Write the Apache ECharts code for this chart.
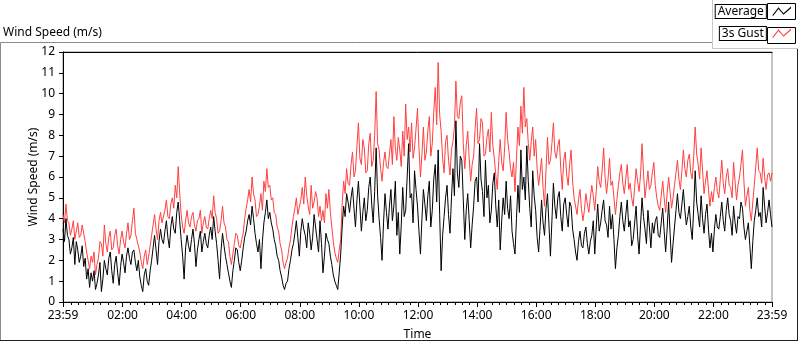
<!DOCTYPE html>
<html>
<head>
<meta charset="utf-8">
<script src="https://cdn.jsdelivr.net/npm/echarts@6/dist/echarts.min.js"></script>
<style>
  html, body { margin: 0; padding: 0; background: #fff; }
  #chart { width: 800px; height: 342px; }
</style>
</head>
<body>
<div id="chart"></div>
<script>
// samples every 3 minutes, first one at 23:59 of the previous day (minute -1)
const startMinute = -1
const stepMinutes = 3

// one row = one hour
const average = [
  3.5, 2.9, 4.0, 3.2, 3.0, 2.3, 2.6, 3.1, 1.8, 2.9, 2.5, 1.9, 2.2, 2.7, 1.7, 2.1, 1.1, 1.6, 0.7, 1.4,
  1.0, 1.5, 0.6, 0.9, 1.3, 1.9, 0.5, 1.1, 2.0, 1.6, 1.3, 2.1, 2.4, 1.5, 0.9, 1.8, 2.2, 1.4, 0.8, 1.7,
  2.3, 1.9, 1.4, 2.2, 2.6, 2.1, 1.8, 2.4, 2.5, 1.9, 1.5, 2.0, 1.2, 0.8, 0.5, 1.3, 1.6, 1.0, 0.8, 1.5,
  2.0, 2.6, 3.2, 2.5, 1.8, 2.9, 3.5, 3.0, 2.8, 3.4, 3.9, 3.1, 2.6, 3.6, 4.1, 3.5, 3.3, 4.3, 4.8, 3.9,
  3.0, 2.2, 1.1, 2.6, 3.2, 2.7, 2.4, 3.0, 3.5, 2.8, 1.7, 2.5, 3.0, 3.4, 2.4, 2.9, 3.3, 2.8, 2.6, 3.2,
  3.6, 3.0, 4.1, 3.4, 2.8, 2.0, 1.1, 2.5, 3.3, 2.7, 2.2, 1.8, 1.4, 1.0, 0.7, 1.5, 2.0, 2.6, 2.5, 1.9,
  1.5, 2.0, 2.6, 3.1, 3.4, 3.9, 4.2, 3.7, 4.6, 4.0, 3.3, 2.8, 2.4, 3.0, 1.6, 2.9, 3.8, 4.3, 4.9, 4.0,
  4.3, 3.8, 3.5, 3.0, 2.7, 2.2, 2.0, 1.5, 1.2, 0.8, 0.6, 0.9, 1.0, 1.6, 2.0, 2.5, 2.8, 3.3, 3.9, 3.1,
  2.2, 3.4, 4.0, 3.5, 3.2, 2.6, 3.8, 3.3, 2.5, 3.1, 4.2, 3.6, 3.0, 2.4, 3.9, 2.8, 1.4, 2.2, 3.3, 3.0,
  2.8, 2.2, 1.8, 1.3, 1.0, 0.8, 0.6, 1.4, 2.3, 3.6, 4.6, 4.1, 5.2, 4.8, 4.3, 5.0, 5.5, 4.5, 3.6, 4.9,
  5.8, 4.6, 3.4, 4.3, 5.0, 3.9, 4.4, 5.5, 6.0, 4.7, 3.8, 5.3, 7.4, 5.1, 4.0, 3.1, 2.0, 3.8, 5.2, 4.3,
  3.5, 4.6, 5.4, 3.9, 4.6, 5.8, 3.2, 4.3, 2.3, 3.7, 5.5, 4.1, 4.4, 6.0, 7.6, 5.0, 5.2, 3.8, 6.3, 5.4,
  4.6, 3.4, 2.3, 4.0, 5.4, 4.7, 3.9, 5.1, 5.8, 3.6, 4.4, 5.9, 6.6, 4.8, 7.3, 4.2, 1.5, 3.2, 4.1, 5.0,
  5.6, 4.2, 3.3, 5.0, 6.4, 5.1, 8.7, 6.2, 5.5, 7.0, 6.8, 4.9, 3.0, 4.4, 5.2, 3.9, 2.6, 3.7, 4.6, 5.8,
  6.0, 4.8, 7.6, 5.9, 5.3, 4.1, 6.8, 5.0, 5.6, 3.8, 4.4, 5.7, 6.2, 4.6, 3.6, 4.9, 2.5, 3.9, 5.0, 4.2,
  5.8, 4.5, 4.0, 5.1, 3.4, 2.8, 2.3, 4.0, 5.6, 4.3, 7.3, 5.4, 6.0, 4.9, 7.5, 5.8, 4.5, 3.6, 6.3, 5.1,
  4.4, 3.1, 2.4, 3.6, 4.9, 3.8, 3.2, 4.5, 5.2, 3.7, 2.2, 3.9, 5.7, 4.6, 4.0, 5.0, 5.3, 4.1, 3.4, 4.7,
  5.0, 4.2, 3.6, 4.8, 4.6, 3.5, 3.0, 2.4, 2.0, 2.9, 3.4, 2.7, 2.6, 3.3, 3.6, 2.8, 2.3, 2.9, 3.2, 3.9,
  2.3, 3.6, 4.7, 3.4, 3.8, 4.4, 4.9, 3.9, 3.7, 3.1, 4.6, 3.5, 4.2, 3.0, 1.6, 2.6, 3.2, 4.1, 4.8, 3.9,
  3.4, 4.2, 4.9, 3.6, 3.9, 2.7, 3.0, 3.8, 4.6, 3.2, 2.3, 3.7, 5.0, 4.1, 3.5, 2.8, 4.4, 3.6, 2.6, 3.8,
  3.3, 3.9, 4.1, 3.2, 3.1, 3.8, 4.5, 3.4, 2.4, 3.5, 4.8, 3.3, 1.9, 2.8, 3.6, 4.4, 5.2, 4.3, 4.0, 4.7,
  5.4, 4.4, 3.7, 4.1, 4.6, 3.6, 3.0, 4.5, 6.3, 4.8, 4.2, 3.6, 5.1, 4.0, 3.3, 4.2, 4.7, 3.5, 2.6, 3.3,
  2.4, 3.5, 4.2, 3.6, 3.5, 4.1, 4.8, 3.9, 3.4, 4.4, 5.0, 4.2, 3.9, 3.2, 4.6, 3.8, 3.3, 4.1, 4.0, 4.8,
  4.5, 3.6, 3.0, 3.4, 3.8, 2.7, 1.6, 2.9, 3.9, 4.4, 5.0, 4.1, 4.3, 3.6, 5.5, 4.6, 3.8, 4.3, 4.9, 4.2,
  3.6
]

const gust = [
  4.2, 3.8, 4.7, 3.9, 3.8, 3.2, 3.5, 3.9, 3.0, 3.4, 3.8, 3.1, 3.2, 3.7, 3.7, 2.9, 2.4, 2.0, 1.6, 2.2,
  1.9, 2.4, 1.3, 1.8, 2.1, 2.9, 2.8, 2.2, 3.7, 2.8, 2.4, 3.1, 3.4, 2.5, 2.6, 3.2, 3.5, 2.7, 2.3, 3.0,
  3.4, 2.9, 2.6, 3.3, 3.8, 3.0, 3.2, 3.9, 4.5, 3.3, 3.0, 2.7, 2.4, 1.9, 1.6, 2.2, 2.5, 1.8, 2.2, 2.7,
  3.2, 3.7, 4.2, 3.5, 3.0, 3.9, 4.3, 3.8, 3.8, 4.4, 4.9, 4.1, 4.0, 4.7, 5.0, 4.5, 5.6, 5.0, 6.5, 5.2,
  4.2, 3.6, 3.3, 3.9, 4.4, 3.8, 3.6, 4.1, 4.3, 3.7, 3.4, 3.9, 4.0, 4.4, 3.3, 3.8, 4.1, 3.6, 3.5, 4.0,
  4.4, 4.0, 5.1, 4.3, 4.0, 3.3, 3.4, 3.9, 4.6, 3.8, 3.6, 3.0, 2.9, 2.2, 1.8, 2.3, 2.8, 3.3, 3.2, 2.7,
  2.6, 3.0, 3.3, 4.0, 4.5, 4.9, 5.4, 4.8, 6.0, 5.2, 4.9, 4.1, 4.2, 4.6, 5.2, 4.4, 5.8, 5.3, 6.4, 5.5,
  5.6, 4.9, 5.0, 4.3, 4.2, 3.6, 3.4, 2.8, 2.5, 1.9, 1.6, 1.9, 2.1, 2.6, 3.0, 3.6, 4.1, 4.5, 5.0, 4.2,
  4.2, 4.9, 5.5, 4.7, 6.0, 5.1, 4.6, 4.2, 5.6, 4.5, 4.8, 5.3, 5.0, 4.1, 4.6, 3.9, 4.4, 3.8, 5.2, 4.5,
  5.4, 4.3, 3.6, 2.9, 2.4, 2.1, 1.9, 2.5, 3.0, 4.7, 5.8, 5.2, 6.4, 5.7, 5.6, 6.6, 7.2, 6.0, 6.3, 7.5,
  8.6, 6.9, 6.6, 7.8, 7.4, 6.2, 6.3, 7.6, 8.1, 6.5, 6.8, 8.0, 10.1, 7.6, 7.3, 6.4, 5.8, 6.7, 7.2, 6.5,
  6.4, 7.1, 7.8, 6.6, 8.9, 7.4, 6.8, 7.9, 7.3, 6.5, 8.2, 7.0, 9.5, 7.8, 8.4, 7.2, 8.6, 6.9, 7.4, 8.3,
  9.3, 7.4, 6.0, 7.1, 8.4, 6.8, 7.2, 8.2, 8.9, 7.0, 7.6, 9.1, 10.3, 8.5, 11.5, 9.0, 8.2, 6.9, 6.2, 7.7,
  8.0, 6.8, 6.1, 7.3, 7.7, 8.4, 10.6, 8.9, 8.8, 9.6, 9.9, 7.6, 6.4, 7.5, 8.2, 6.9, 5.8, 6.6, 7.0, 8.3,
  9.3, 7.6, 7.8, 8.8, 8.6, 7.0, 7.1, 7.9, 8.3, 7.2, 9.1, 7.5, 6.9, 6.1, 5.4, 6.8, 7.8, 6.7, 6.3, 7.4,
  9.1, 7.8, 7.2, 6.4, 6.0, 6.7, 5.3, 6.9, 8.4, 7.5, 9.4, 8.1, 10.3, 8.4, 8.8, 7.6, 6.8, 7.7, 8.4, 7.0,
  7.8, 6.4, 5.6, 6.2, 6.9, 5.5, 4.6, 6.3, 7.9, 6.6, 6.8, 7.6, 8.6, 7.2, 6.9, 7.5, 7.8, 6.4, 5.4, 6.8,
  7.2, 6.1, 5.6, 6.6, 7.3, 5.8, 5.0, 4.6, 4.2, 4.9, 5.4, 4.5, 3.9, 4.4, 5.2, 4.7, 4.3, 5.0, 5.6, 5.1,
  4.4, 5.3, 6.5, 5.8, 5.5, 6.3, 7.4, 6.0, 5.2, 5.9, 6.9, 5.6, 5.8, 5.0, 4.2, 4.9, 5.6, 6.2, 6.6, 5.7,
  5.2, 5.9, 6.6, 5.4, 5.7, 5.0, 4.6, 5.5, 6.4, 5.8, 5.3, 6.1, 7.6, 6.2, 5.0, 5.6, 6.3, 5.4, 5.6, 6.2,
  6.7, 5.6, 5.0, 4.6, 4.4, 5.1, 5.8, 5.0, 4.3, 5.2, 6.0, 5.3, 4.5, 5.0, 5.6, 6.2, 6.8, 5.9, 5.4, 6.3,
  7.3, 6.4, 6.0, 6.8, 7.1, 6.2, 5.9, 7.0, 8.4, 7.1, 6.6, 5.9, 7.4, 6.3, 5.2, 5.8, 6.3, 5.4, 4.6, 5.3,
  4.8, 5.5, 6.0, 5.3, 5.0, 5.9, 6.8, 5.7, 5.2, 6.0, 6.4, 5.6, 5.5, 5.0, 6.7, 5.8, 4.9, 5.6, 6.0, 6.6,
  7.3, 5.8, 4.6, 5.1, 5.5, 4.4, 3.9, 4.8, 5.6, 6.5, 7.4, 6.3, 6.2, 5.7, 6.9, 6.0, 5.4, 6.1, 6.2, 5.8,
  6.2
]

// x axis in minutes since midnight
const timeTicks = [-1, 120, 240, 360, 480, 600, 720, 840, 960, 1080, 1200, 1320, 1439]
const timeLabels = ['23:59', '02:00', '04:00', '06:00', '08:00', '10:00', '12:00',
  '14:00', '16:00', '18:00', '20:00', '22:00', '23:59']

let minorTicks = []
for (let m = 15; m < 1439; m += 15) {
  if (m % 120 != 0) minorTicks.push(m)
}

const toPoints = (arr) => arr.map((v, i) => [startMinute + i * stepMinutes, v])

const font = 'Noto Sans'
const zigzag = 'path://M0 10 L7 1 L13 8 L22 0 L22 2 L13 10 L7 3 L0 12 Z'

// both grids sit on the same rectangle, the second one only carries the minor ticks
const plotBox = { left: 63, right: 28, top: 52, bottom: 40 }

const chart = echarts.init(document.getElementById('chart'), null, { renderer: 'canvas' })

let option = {
  animation: false,
  backgroundColor: '#fff',
  textStyle: { fontFamily: font },
  title: {
    text: 'Wind Speed (m/s)',
    left: 3,
    top: 27,
    padding: 0,
    textStyle: { fontSize: 12, fontWeight: 'normal', color: '#000', fontFamily: font }
  },
  legend: {
    orient: 'vertical',
    right: 9,
    top: 4,
    padding: 0,
    align: 'right',
    itemWidth: 22,
    itemHeight: 10,
    itemGap: 7,
    selectedMode: false,
    data: [
      { name: 'Average', icon: zigzag },
      { name: '3s Gust', icon: zigzag }
    ],
    textStyle: {
      fontSize: 12, color: '#000', fontFamily: font,
      borderColor: '#000', borderWidth: 1, padding: [1, 2, 0, 2], backgroundColor: '#fff'
    }
  },
  grid: [
    Object.assign({ show: true, borderColor: '#8a8a8a', borderWidth: 1, outerBoundsMode: 'none' }, plotBox),
    Object.assign({ show: false, outerBoundsMode: 'none' }, plotBox)
  ],
  xAxis: [
    {
      type: 'value', min: -1, max: 1439, gridIndex: 0, position: 'bottom',
      name: 'Time', nameLocation: 'middle', nameGap: 27, nameMoveOverlap: false,
      nameTextStyle: { fontSize: 12, color: '#000', fontFamily: font },
      axisLine: { show: true, onZero: false, lineStyle: { color: '#000' } },
      axisTick: { show: true, length: 5, customValues: timeTicks, lineStyle: { color: '#000' } },
      axisLabel: {
        customValues: timeTicks, margin: 8, fontSize: 12, color: '#000', fontFamily: font,
        formatter: (v) => timeLabels[timeTicks.indexOf(v)]
      },
      splitLine: { show: false }
    },
    {
      // top border of the plot
      type: 'value', min: -1, max: 1439, gridIndex: 0, position: 'top',
      axisLine: { show: true, onZero: false, lineStyle: { color: '#000' } },
      axisTick: { show: false },
      axisLabel: { show: false },
      splitLine: { show: false }
    },
    {
      // minor ticks every 15 minutes
      type: 'value', min: -1, max: 1439, gridIndex: 1, position: 'bottom',
      axisLine: { show: false, onZero: false },
      axisTick: { show: true, length: 3, customValues: minorTicks, lineStyle: { color: '#000' } },
      axisLabel: { show: false },
      splitLine: { show: false }
    }
  ],
  yAxis: [
    {
      type: 'value', min: 0, max: 12, interval: 1, gridIndex: 0,
      name: 'Wind Speed (m/s)', nameLocation: 'middle', nameGap: 23, nameMoveOverlap: false,
      nameTextStyle: { fontSize: 12, color: '#000', fontFamily: font },
      axisLine: { show: true, onZero: false, lineStyle: { color: '#000' } },
      axisTick: { show: true, length: 4, lineStyle: { color: '#000' } },
      axisLabel: { margin: 8, fontSize: 12, color: '#000', fontFamily: font },
      splitLine: { show: false }
    },
    {
      type: 'value', min: 0, max: 12, gridIndex: 1, show: false
    }
  ],
  series: [
    {
      name: '3s Gust', type: 'line', data: toPoints(gust),
      showSymbol: false, color: '#ff4040',
      lineStyle: { width: 1, color: '#ff4040' }
    },
    {
      name: 'Average', type: 'line', data: toPoints(average),
      showSymbol: false, color: '#000',
      lineStyle: { width: 1, color: '#000' }
    }
  ],
  graphic: [
    // outer panel frame
    { type: 'line', shape: { x1: 0.5, y1: 42.5, x2: 712.5, y2: 42.5 }, style: { stroke: '#8a8a8a' } },
    { type: 'line', shape: { x1: 0.5, y1: 42.5, x2: 0.5, y2: 341 }, style: { stroke: '#8a8a8a' } },
    { type: 'line', shape: { x1: 0, y1: 340.5, x2: 798, y2: 340.5 }, style: { stroke: '#222' } },
    { type: 'line', shape: { x1: 797.5, y1: 48, x2: 797.5, y2: 341 }, style: { stroke: '#222' } },
    // legend panel
    { type: 'line', shape: { x1: 712.5, y1: 0, x2: 712.5, y2: 48.5 }, style: { stroke: '#c8c8c8' } },
    { type: 'line', shape: { x1: 712.5, y1: 48.5, x2: 798, y2: 48.5 }, style: { stroke: '#c8c8c8' } },
    // frames round the legend icons
    { type: 'rect', shape: { x: 767.5, y: 3.5, width: 28, height: 16 }, style: { fill: 'none', stroke: '#000' } },
    { type: 'rect', shape: { x: 767.5, y: 27.5, width: 28, height: 16 }, style: { fill: 'none', stroke: '#000' } }
  ]
}

chart.setOption(option)
</script>
</body>
</html>
